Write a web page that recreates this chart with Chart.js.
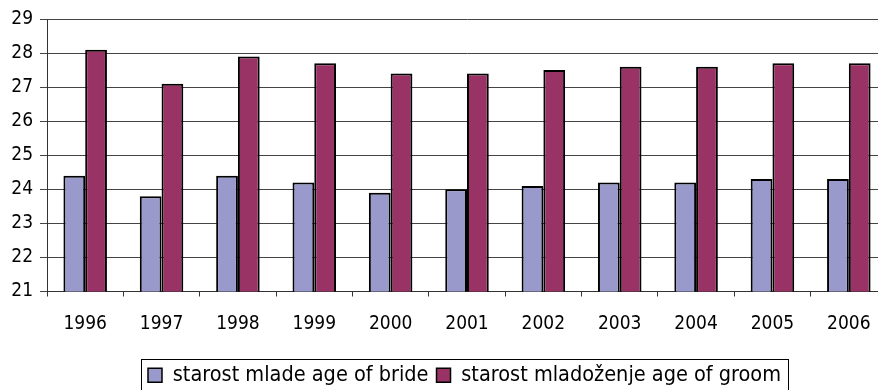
<!DOCTYPE html>
<html>
<head>
<meta charset="utf-8">
<script src="https://cdn.jsdelivr.net/npm/chart.js@4/dist/chart.umd.min.js"></script>
<style>
  html, body { margin: 0; padding: 0; background: #fff; overflow: hidden; }
  /* plot runs a little past the right edge of the window */
  #wrap { width: 887px; height: 396px; }
</style>
</head>
<body>
<div id="wrap"><canvas id="myChart"></canvas></div>
<script>
// average age at first marriage
const years = ['1996', '1997', '1998', '1999', '2000', '2001', '2002', '2003', '2004', '2005', '2006'];
const brideAge = [24.4, 23.8, 24.4, 24.2, 23.9, 24.0, 24.1, 24.2, 24.2, 24.3, 24.3];
const groomAge = [28.1, 27.1, 27.9, 27.7, 27.4, 27.4, 27.5, 27.6, 27.6, 27.7, 27.7];
const seriesNames = ['starost mlade age of bride', 'starost mladoženje age of groom'];
const yTicks = [21, 22, 23, 24, 25, 26, 27, 28, 29];

const FONT = '"DejaVu Sans Condensed", "DejaVu Sans", sans-serif';
Chart.defaults.font.family = FONT;
Chart.defaults.color = '#000';

// legend starts at a fixed x and gets a frame around it
const legendFrame = {
    id: 'legendFrame',
    afterLayout(chart) {
        const lg = chart.legend;
        const shift = 140 - lg.left;
        lg.left += shift;
        lg.right += shift;
    },
    afterDraw(chart) {
        const boxes = chart.legend.legendHitBoxes;
        if (!boxes.length) return;
        const left = Math.min(...boxes.map(b => b.left)) - 7;
        const right = Math.max(...boxes.map(b => b.left + b.width)) + 7;
        const top = Math.min(...boxes.map(b => b.top)) - 6;
        const ctx = chart.ctx;
        ctx.save();
        ctx.strokeStyle = '#000';
        ctx.lineWidth = 1;
        ctx.strokeRect(Math.round(left) + 0.5, Math.round(top) + 0.5, Math.round(right - left), chart.height);
        ctx.restore();
    }
};

const ctx = document.getElementById('myChart').getContext('2d');

const data = {
    labels: years,
    datasets: [{
        label: seriesNames[0],
        data: brideAge,
        backgroundColor: '#9999cc',
        borderColor: '#000',
        borderWidth: 2,
        borderSkipped: false,
    }, {
        label: seriesNames[1],
        data: groomAge,
        backgroundColor: '#993366',
        borderColor: '#000',
        borderWidth: 2,
        borderSkipped: false,
    }]
};

const config = {
    type: 'bar',
    data: data,
    plugins: [legendFrame],
    options: {
        responsive: true,
        maintainAspectRatio: false,
        animation: false,
        layout: { padding: { top: 19, right: 0, bottom: 0, left: 0 } },
        datasets: {
            bar: { categoryPercentage: 0.57, barPercentage: 1.0 }
        },
        scales: {
            x: {
                offset: true,
                grid: {
                    offset: true,
                    drawOnChartArea: false,
                    color: '#333',
                    tickLength: 5,
                },
                border: { color: '#333', width: 1 },
                ticks: { font: { size: 19 }, padding: 16, maxRotation: 0 },
                afterFit(scale) { scale.height = 65; }
            },
            y: {
                min: 21,
                max: 29,
                afterBuildTicks(scale) { scale.ticks = yTicks.map(v => ({ value: v })); },
                grid: { color: '#444', tickLength: 7 },
                border: { color: '#333', width: 1 },
                ticks: { font: { size: 19 }, padding: 7 },
                afterFit(scale) { scale.width = 47; }
            }
        },
        plugins: {
            tooltip: { enabled: false },
            legend: {
                position: 'bottom',
                align: 'start',
                labels: {
                    font: { size: 21.5 },
                    boxWidth: 14,
                    boxHeight: 14,
                    padding: 8,
                    color: '#000',
                    generateLabels(chart) {
                        return chart.data.datasets.map((ds, i) => ({
                            text: ds.label,
                            fillStyle: ds.backgroundColor,
                            strokeStyle: '#000',
                            lineWidth: 1.5,
                            datasetIndex: i,
                        }));
                    }
                }
            }
        }
    }
};

const myChart = new Chart(ctx, config);
</script>
</body>
</html>
